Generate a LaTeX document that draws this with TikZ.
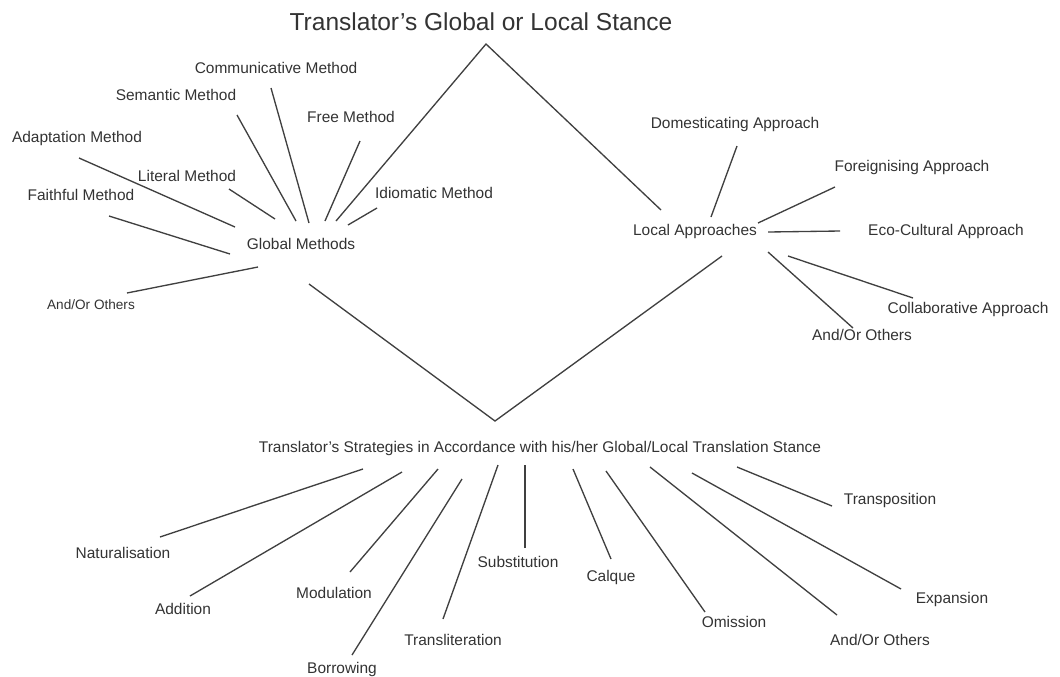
\documentclass[tikz,border=0pt]{standalone}
\usepackage{fontspec}
\setmainfont{Liberation Sans}

\begin{document}
\begin{tikzpicture}[x=0.75pt,y=-0.75pt,
  lbl/.style={text=black!80,font=\fontsize{11.6}{13}\selectfont,inner sep=0pt,text height=8.3pt,text depth=0pt},
  lblsmall/.style={lbl,font=\fontsize{10.2}{12}\selectfont,text height=7.3pt},
  lnk/.style={draw=black!75,line width=1pt}]
\useasboundingbox (0,0) rectangle (1060,676);

% Rombo
\coordinate (top) at (486,44);
\coordinate (bot) at (495,421);
\coordinate (gmR) at (336,221);
\coordinate (gmB) at (309,284);
\coordinate (laL) at (661,210);
\coordinate (laB) at (722,256);

\node[lbl,font=\fontsize{18.4}{20}\selectfont,text height=13.2pt] (title) at (481,22) {Translator’s Global or Local Stance};
\node[lbl] (gm) at (301,244) {Global Methods};
\node[lbl] (la) at (695,230) {Local Approaches};
\node[lbl] (strat) at (540,447) {Translator’s Strategies in Accordance with his/her Global/Local Translation Stance};

\draw[lnk] (gmR) -- (top) -- (laL);
\draw[lnk] (gmB) -- (bot) -- (laB);

% Metodos globales
\coordinate (comm-a) at (271,88);  \coordinate (comm-b) at (309,223);
\coordinate (sem-a) at (237,115);  \coordinate (sem-b) at (296,221);
\coordinate (free-a) at (360,141); \coordinate (free-b) at (325,221);
\coordinate (adapt-a) at (79,158); \coordinate (adapt-b) at (235,227);
\coordinate (lit-a) at (229,189);  \coordinate (lit-b) at (275,219);
\coordinate (faith-a) at (109,216); \coordinate (faith-b) at (230,254);
\coordinate (idio-a) at (377,208); \coordinate (idio-b) at (348,225);
\coordinate (gother-a) at (127,293); \coordinate (gother-b) at (258,267);

\node[lbl] (comm) at (276,68) {Communicative Method};
\node[lbl] (sem) at (176,95) {Semantic Method};
\node[lbl] (free) at (351,117) {Free Method};
\node[lbl] (adapt) at (77,137) {Adaptation Method};
\node[lbl] (lit) at (187,176) {Literal Method};
\node[lbl] (faith) at (81,195) {Faithful Method};
\node[lbl] (idio) at (434,193) {Idiomatic Method};
\node[lblsmall] (gother) at (91,305) {And/Or Others};

\draw[lnk] (comm-a) -- (comm-b);
\draw[lnk] (sem-a) -- (sem-b);
\draw[lnk] (free-a) -- (free-b);
\draw[lnk] (adapt-a) -- (adapt-b);
\draw[lnk] (lit-a) -- (lit-b);
\draw[lnk] (faith-a) -- (faith-b);
\draw[lnk] (idio-a) -- (idio-b);
\draw[lnk] (gother-a) -- (gother-b);

% Enfoques locales
\coordinate (dom-a) at (737,146);  \coordinate (dom-b) at (711,217);
\coordinate (forg-a) at (835,187); \coordinate (forg-b) at (758,223);
\coordinate (eco-a) at (840,231);  \coordinate (eco-b) at (768,232);
\coordinate (coll-a) at (913,298); \coordinate (coll-b) at (788,256);
\coordinate (lother-a) at (853,328); \coordinate (lother-b) at (768,252);

\node[lbl] (dom) at (735,123) {Domesticating Approach};
\node[lbl] (forg) at (912,166) {Foreignising Approach};
\node[lbl] (eco) at (946,230) {Eco-Cultural Approach};
\node[lbl] (coll) at (968,308) {Collaborative Approach};
\node[lbl] (lother) at (862,335) {And/Or Others};

\draw[lnk] (dom-a) -- (dom-b);
\draw[lnk] (forg-a) -- (forg-b);
\draw[lnk] (eco-a) -- (eco-b);
\draw[lnk] (coll-a) -- (coll-b);
\draw[lnk] (lother-a) -- (lother-b);

% Estrategias
\coordinate (nat-a) at (160,537);  \coordinate (nat-b) at (363,469);
\coordinate (add-a) at (190,596);  \coordinate (add-b) at (402,472);
\coordinate (mod-a) at (350,572);  \coordinate (mod-b) at (438,469);
\coordinate (bor-a) at (352,655);  \coordinate (bor-b) at (462,479);
\coordinate (tlit-a) at (443,619); \coordinate (tlit-b) at (498,465);
\coordinate (subs-a) at (525,548); \coordinate (subs-b) at (525,465);
\coordinate (calq-a) at (611,559); \coordinate (calq-b) at (573,469);
\coordinate (omis-a) at (705,612); \coordinate (omis-b) at (606,471);
\coordinate (sother-a) at (837,615); \coordinate (sother-b) at (650,467);
\coordinate (expn-a) at (901,589); \coordinate (expn-b) at (692,473);
\coordinate (trsp-a) at (832,506); \coordinate (trsp-b) at (737,467);

\node[lbl] (nat) at (123,553) {Naturalisation};
\node[lbl] (add) at (183,609) {Addition};
\node[lbl] (mod) at (334,593) {Modulation};
\node[lbl] (bor) at (342,668) {Borrowing};
\node[lbl] (tlit) at (453,640) {Transliteration};
\node[lbl] (subs) at (518,562) {Substitution};
\node[lbl] (calq) at (611,576) {Calque};
\node[lbl] (omis) at (734,622) {Omission};
\node[lbl] (sother) at (880,640) {And/Or Others};
\node[lbl] (expn) at (952,598) {Expansion};
\node[lbl] (trsp) at (890,499) {Transposition};

\draw[lnk] (nat-a) -- (nat-b);
\draw[lnk] (add-a) -- (add-b);
\draw[lnk] (mod-a) -- (mod-b);
\draw[lnk] (bor-a) -- (bor-b);
\draw[lnk] (tlit-a) -- (tlit-b);
\draw[lnk] (subs-a) -- (subs-b);
\draw[lnk] (calq-a) -- (calq-b);
\draw[lnk] (omis-a) -- (omis-b);
\draw[lnk] (sother-a) -- (sother-b);
\draw[lnk] (expn-a) -- (expn-b);
\draw[lnk] (trsp-a) -- (trsp-b);
\end{tikzpicture}
\end{document}
